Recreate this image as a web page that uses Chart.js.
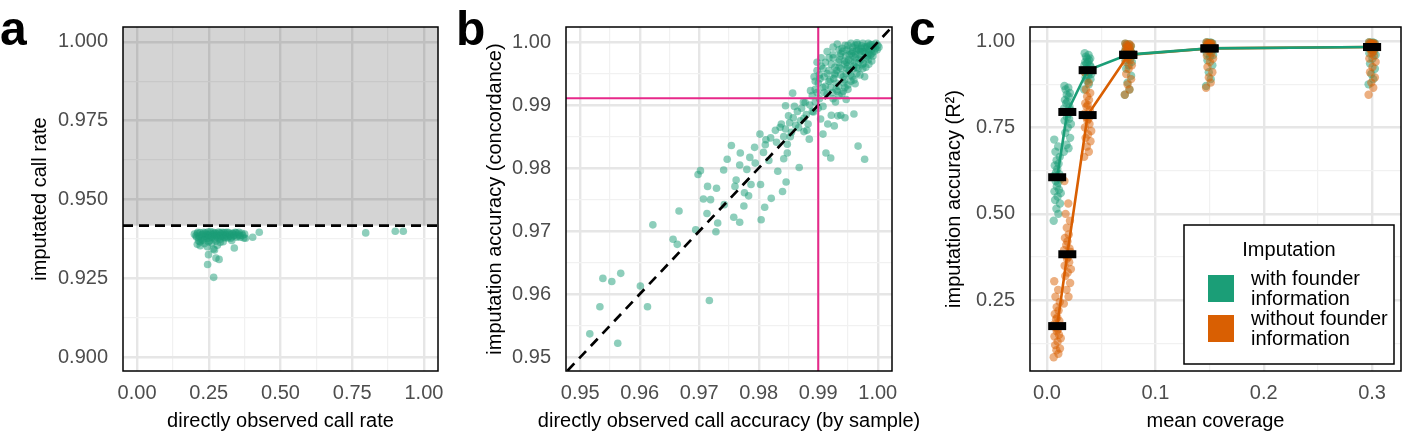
<!DOCTYPE html>
<html>
<head>
<meta charset="utf-8">
<script src="https://cdn.jsdelivr.net/npm/chart.js@4.4.1/dist/chart.umd.min.js"></script>
<style>
  body { margin: 0; background: #fff; width: 1418px; height: 433px; overflow: hidden; position: relative; }
  canvas { position: absolute; top: 0; }
</style>
</head>
<body>
<canvas id="chartA" width="455" height="433" style="left:0"></canvas>
<canvas id="chartB" width="475" height="433" style="left:455px"></canvas>
<canvas id="chartC" width="510" height="433" style="left:908px"></canvas>
<script>
const FONT = "'Liberation Sans', Arial, sans-serif";
const GREEN = '#1b9e77';
const ORANGE = '#d95f02';
const PINK = '#e7298a';

// ---- panel a: imputed vs directly observed call rate ----
const aXTicks = [0, 0.25, 0.5, 0.75, 1];
const aXLabels = ['0.00', '0.25', '0.50', '0.75', '1.00'];
const aXMinor = [0.125, 0.375, 0.625, 0.875];
const aYTicks = [0.9, 0.925, 0.95, 0.975, 1.0];
const aYLabels = ['0.900', '0.925', '0.950', '0.975', '1.000'];
const aYMinor = [0.9125, 0.9375, 0.9625, 0.9875];
const aThreshold = 0.9417;
const aPoints = [
  [0.205,0.9385],[0.21,0.9392],[0.215,0.9378],[0.22,0.9395],[0.225,0.9388],[0.228,0.9372],[0.232,0.9396],
  [0.236,0.9383],[0.24,0.9390],[0.243,0.9376],[0.247,0.9397],[0.25,0.9386],[0.254,0.9370],[0.257,0.9393],
  [0.26,0.9380],[0.263,0.9388],[0.266,0.9396],[0.27,0.9375],[0.273,0.9385],[0.276,0.9392],[0.28,0.9380],
  [0.284,0.9397],[0.287,0.9387],[0.29,0.9374],[0.294,0.9391],[0.298,0.9383],[0.302,0.9395],[0.306,0.9378],
  [0.31,0.9389],[0.314,0.9396],[0.318,0.9382],[0.322,0.9390],[0.327,0.9377],[0.332,0.9393],[0.337,0.9385],
  [0.342,0.9396],[0.347,0.9380],[0.352,0.9390],[0.358,0.9386],[0.365,0.9393],[0.372,0.9378],[0.22,0.9365],
  [0.235,0.9360],[0.26,0.9362],[0.30,0.9366],[0.21,0.9358],[0.28,0.9355],[0.245,0.9350],[0.33,0.9370],
  [0.27,0.9340],[0.22,0.9353],[0.266,0.9343],
  [0.20,0.9390],[0.208,0.9380],[0.212,0.9396],[0.218,0.9384],[0.224,0.9376],[0.23,0.9390],[0.238,0.9394],
  [0.242,0.9382],[0.248,0.9388],[0.252,0.9378],[0.256,0.9398],[0.262,0.9384],[0.268,0.9390],[0.272,0.9394],
  [0.278,0.9386],[0.282,0.9376],[0.288,0.9394],[0.292,0.9384],[0.296,0.9396],[0.30,0.9388],[0.304,0.9380],
  [0.308,0.9395],[0.312,0.9385],[0.316,0.9378],[0.32,0.9395],[0.325,0.9386],[0.33,0.9382],[0.335,0.9392],
  [0.34,0.9388],[0.345,0.9394],[0.35,0.9384],[0.355,0.9396],[0.36,0.9380],[0.368,0.9386],[0.375,0.9390],
  [0.233,0.9370],[0.25,0.9366],[0.275,0.9368],[0.29,0.9364],[0.215,0.9368],
  [0.426,0.9396],[0.403,0.9380],[0.378,0.9377],[0.339,0.9346],[0.249,0.9325],[0.286,0.9310],[0.275,0.9314],
  [0.246,0.9294],[0.267,0.9253],[0.797,0.9394],[0.900,0.9399],[0.928,0.9399]
];

// ---- panel b: imputation accuracy vs directly observed accuracy ----
const bTicks = [0.95, 0.96, 0.97, 0.98, 0.99, 1.0];
const bLabels = ['0.95', '0.96', '0.97', '0.98', '0.99', '1.00'];
const bMinor = [0.955, 0.965, 0.975, 0.985, 0.995];
const bRefX = 0.990;
const bRefY = 0.9911;
const bPoints = [
  [0.9516,0.9537],[0.9563,0.9522],[0.9533,0.9580],[0.9538,0.9625],[0.9553,0.9620],[0.9568,0.9633],[0.9601,0.9613],
  [0.9613,0.9580],[0.9622,0.9710],[0.9656,0.9687],[0.9663,0.9679],[0.9666,0.9732],[0.9694,0.9702],[0.9717,0.9590],
  [0.9698,0.9790],[0.9702,0.9796],[0.9714,0.9771],[0.9729,0.9768],[0.9707,0.9751],[0.9719,0.9750],[0.9713,0.9728],
  [0.9731,0.9713],[0.9728,0.9699],[0.9741,0.9797],[0.9742,0.9742],[0.9747,0.9814],[0.9754,0.9836],[0.9762,0.9781],
  [0.9760,0.9771],[0.9758,0.9722],[0.9768,0.9714],[0.9769,0.9824],[0.9768,0.9805],[0.9775,0.9740],[0.9776,0.9761],
  [0.9783,0.9756],[0.9780,0.9798],[0.9785,0.9817],[0.9787,0.9774],[0.9793,0.9833],[0.9794,0.9808],[0.9803,0.9774],
  [0.9802,0.9854],[0.9804,0.9718],[0.9810,0.9738],[0.9808,0.9825],[0.9811,0.9837],[0.9817,0.9812],[0.9821,0.9752],
  [0.9830,0.9841],[0.9832,0.9795],[0.9836,0.9865],[0.9842,0.9815],[0.9840,0.9763],[0.9846,0.9778],[0.9848,0.9824],
  [0.9853,0.9850],[0.9850,0.9883],[0.9857,0.9919],[0.9860,0.9898],[0.9845,0.9899],[0.9868,0.9801],[0.9867,0.9864],
  [0.9876,0.9879],[0.9881,0.9860],[0.9885,0.9846],[0.9878,0.9904],[0.9887,0.9923],[0.9892,0.9889],[0.9904,0.9878],
  [0.9908,0.9854],[0.9913,0.9824],[0.9921,0.9816],[0.9916,0.9870],[0.9922,0.9884],[0.9929,0.9905],[0.9938,0.9884],
  [0.9945,0.9880],[0.9933,0.9883],[0.9960,0.9886],[0.9967,0.9835],[0.9978,0.9814],[0.9947,0.9909],[0.9927,0.9867],
  [0.9838,0.9870],[0.9845,0.9862],[0.9852,0.9872],[0.9858,0.9880],[0.9862,0.9868],[0.9865,0.9890],[0.9870,0.9875],
  [0.9872,0.9895],[0.9875,0.9905],[0.9880,0.9885],[0.9883,0.9870],[0.9886,0.9900],[0.9890,0.9890],[0.9895,0.9905],
  [0.9900,0.9895],[0.9902,0.9910],[0.9908,0.9898],[0.9876,0.9858],[0.9855,0.9857],[0.9842,0.9850],[0.9848,0.9838],
  [0.9828,0.9860],[0.9820,0.9848],[0.9812,0.9845],
  [0.9890,0.9915],[0.9895,0.9925],[0.9900,0.9935],[0.9893,0.9945],[0.9898,0.9955],[0.9905,0.9962],[0.9910,0.9945],
  [0.9912,0.9930],[0.9915,0.9918],[0.9920,0.9940],[0.9918,0.9955],[0.9922,0.9965],[0.9925,0.9975],[0.9928,0.9950],
  [0.9930,0.9935],[0.9932,0.9922],[0.9935,0.9960],[0.9936,0.9972],[0.9938,0.9982],[0.9940,0.9990],[0.9942,0.9945],
  [0.9945,0.9965],[0.9946,0.9978],[0.9948,0.9988],[0.9950,0.9995],[0.9952,0.9955],[0.9955,0.9970],[0.9956,0.9982],
  [0.9958,0.9992],[0.9960,0.9962],[0.9962,0.9975],[0.9964,0.9986],[0.9966,0.9996],[0.9968,0.9968],[0.9970,0.9980],
  [0.9972,0.9990],[0.9975,0.9998],[0.9977,0.9985],[0.9980,0.9975],[0.9982,0.9993],[0.9985,0.9988],[0.9988,0.9996],
  [0.9990,0.9982],[0.9993,0.9992],[0.9996,0.9990],[1.0000,0.9995],[0.9985,0.9965],[0.9975,0.9958],[0.9965,0.9950],
  [0.9955,0.9938],[0.9945,0.9928],[0.9935,0.9915],[0.9925,0.9910],[0.9960,0.9940],[0.9970,0.9948],[0.9978,0.9945],
  [0.9950,0.9925],[0.9940,0.9918],[0.9915,0.9985],[0.9925,0.9992],[0.9932,0.9997],[0.9905,0.9975],[0.9898,0.9968],
  [0.9944,0.9970],[0.9952,0.9980],[0.9958,0.9985],[0.9948,0.9958],[0.9938,0.9948],[0.9928,0.9960],[0.9962,0.9995],
  [0.9972,0.9972],[0.9988,0.9980],
  [0.9895,0.9938],[0.9902,0.9948],[0.9908,0.9958],[0.9912,0.9968],[0.9918,0.9975],[0.9921,0.9928],[0.9926,0.9942],
  [0.9931,0.9955],[0.9934,0.9968],[0.9937,0.9978],[0.9941,0.9985],[0.9943,0.9935],[0.9947,0.9950],[0.9949,0.9962],
  [0.9951,0.9972],[0.9953,0.9986],[0.9957,0.9945],[0.9959,0.9958],[0.9961,0.9968],[0.9963,0.9980],[0.9965,0.9990],
  [0.9967,0.9958],[0.9969,0.9974],[0.9971,0.9985],[0.9973,0.9994],[0.9976,0.9966],[0.9979,0.9982],[0.9981,0.9990],
  [0.9983,0.9978],[0.9986,0.9994],[0.9989,0.9988],[0.9991,0.9996],[0.9994,0.9985],[0.9997,0.9998],[0.9999,0.9988],
  [1.0002,0.9992],[0.9984,0.9998],[0.9978,0.9992],[0.9968,0.9988],[0.9958,0.9978],[0.9948,0.9968],[0.9938,0.9958],
  [0.9928,0.9948],[0.9918,0.9938],[0.9908,0.9928],[0.9898,0.9920],[0.9954,0.9948],[0.9944,0.9940],[0.9934,0.9930],
  [0.9924,0.9920],[0.9964,0.9960],[0.9974,0.9964],[0.9984,0.9972],[0.9992,0.9978],[0.9990,0.9970],[0.9980,0.9960],
  [0.9962,0.9934],[0.9950,0.9932],[0.9942,0.9922],[0.9930,0.9925],[0.9910,0.9920],[0.9903,0.9942],[0.9915,0.9950],
  [0.9925,0.9980],[0.9935,0.9988],[0.9945,0.9995],[0.9955,0.9998],[0.9965,0.9999],[0.9975,0.9985],[0.9985,0.9982]
];

// ---- panel c: imputation accuracy by coverage ----
const cXTicks = [0, 0.1, 0.2, 0.3];
const cXLabels = ['0.0', '0.1', '0.2', '0.3'];
const cXMinor = [0.05, 0.15, 0.25];
const cYTicks = [0.25, 0.5, 0.75, 1.0];
const cYLabels = ['0.25', '0.50', '0.75', '1.00'];
const cYMinor = [0.125, 0.375, 0.625, 0.875];
const coverage = [0.009375, 0.01875, 0.0375, 0.075, 0.15, 0.3];
const withMean = [0.606, 0.795, 0.916, 0.961, 0.979, 0.983];
const withoutMean = [0.175, 0.383, 0.786, 0.960, 0.979, 0.983];
const jitter = [-0.0032, 0.0011, -0.0007, 0.0026, -0.0019, 0.0004, 0.0033, -0.0025, 0.0017, -0.0003, 0.0008, -0.0014,
  0.0029, -0.0030, 0.0020, -0.0010, 0.0001, -0.0022, 0.0013, -0.0005, 0.0024, -0.0016, 0.0009, -0.0027];
const withSamples = [
  [0.48, 0.50, 0.515, 0.53, 0.54, 0.55, 0.56, 0.565, 0.57, 0.58, 0.59, 0.595, 0.60, 0.61, 0.615, 0.62, 0.63, 0.64, 0.645, 0.655, 0.665, 0.68, 0.695, 0.715],
  [0.68, 0.69, 0.70, 0.72, 0.735, 0.75, 0.76, 0.77, 0.775, 0.78, 0.79, 0.795, 0.80, 0.805, 0.81, 0.82, 0.825, 0.83, 0.84, 0.845, 0.85, 0.86, 0.865, 0.87],
  [0.86, 0.875, 0.885, 0.89, 0.895, 0.90, 0.905, 0.91, 0.91, 0.915, 0.92, 0.92, 0.925, 0.93, 0.93, 0.935, 0.94, 0.94, 0.945, 0.95, 0.95, 0.955, 0.96, 0.965],
  [0.845, 0.86, 0.88, 0.90, 0.92, 0.93, 0.94, 0.945, 0.95, 0.955, 0.96, 0.96, 0.965, 0.97, 0.97, 0.975, 0.975, 0.98, 0.98, 0.985, 0.985, 0.99, 0.99, 0.993],
  [0.87, 0.89, 0.91, 0.93, 0.945, 0.955, 0.96, 0.965, 0.97, 0.975, 0.975, 0.98, 0.98, 0.985, 0.985, 0.988, 0.99, 0.99, 0.992, 0.993, 0.994, 0.995, 0.996, 0.997],
  [0.875, 0.89, 0.905, 0.92, 0.935, 0.95, 0.96, 0.965, 0.97, 0.975, 0.978, 0.98, 0.983, 0.985, 0.987, 0.989, 0.99, 0.991, 0.992, 0.993, 0.994, 0.995, 0.996, 0.997]
];
const withoutSamples = [
  [0.085, 0.095, 0.105, 0.11, 0.12, 0.13, 0.14, 0.145, 0.15, 0.16, 0.165, 0.17, 0.175, 0.18, 0.19, 0.195, 0.20, 0.21, 0.22, 0.23, 0.245, 0.26, 0.28, 0.305],
  [0.24, 0.26, 0.28, 0.30, 0.32, 0.33, 0.34, 0.35, 0.36, 0.37, 0.375, 0.38, 0.39, 0.395, 0.40, 0.41, 0.42, 0.43, 0.44, 0.46, 0.48, 0.50, 0.53, 0.595],
  [0.665, 0.68, 0.695, 0.71, 0.72, 0.73, 0.74, 0.75, 0.76, 0.77, 0.775, 0.78, 0.785, 0.79, 0.80, 0.81, 0.815, 0.82, 0.83, 0.84, 0.85, 0.86, 0.88, 0.91],
  [0.845, 0.86, 0.875, 0.89, 0.905, 0.92, 0.93, 0.94, 0.945, 0.95, 0.955, 0.96, 0.965, 0.97, 0.972, 0.975, 0.978, 0.98, 0.982, 0.985, 0.987, 0.989, 0.991, 0.993],
  [0.865, 0.88, 0.895, 0.91, 0.925, 0.94, 0.95, 0.958, 0.965, 0.97, 0.974, 0.978, 0.98, 0.983, 0.985, 0.987, 0.989, 0.99, 0.991, 0.992, 0.993, 0.994, 0.995, 0.996],
  [0.845, 0.865, 0.88, 0.895, 0.91, 0.925, 0.94, 0.95, 0.958, 0.965, 0.97, 0.975, 0.978, 0.981, 0.984, 0.986, 0.988, 0.99, 0.991, 0.992, 0.993, 0.994, 0.995, 0.996]
];
const legendTitle = 'Imputation';
const seriesNames = [['with founder', 'information'], ['without founder', 'information']];

// ---------- helpers ----------
const toXY = arr => arr.map(p => ({ x: p[0], y: p[1] }));
const near = (a, b) => Math.abs(a - b) < 1e-9;

function axis(o) {
  const all = o.major.concat(o.minor);
  const isMajor = v => o.major.some(m => near(m, v));
  const left = o.pos === 'left';
  return {
    type: 'linear',
    position: o.pos,
    min: o.min,
    max: o.max,
    afterBuildTicks: s => { s.ticks = all.map(v => ({ value: v })); },
    afterFit: s => { if (left) s.width = o.size; else s.height = o.size; },
    grid: {
      drawTicks: false,
      color: c => (c.tick && isMajor(c.tick.value)) ? '#e6e6e6' : '#f1f1f1',
      lineWidth: c => (c.tick && isMajor(c.tick.value)) ? 2.4 : 1.2
    },
    border: { display: false },
    ticks: {
      autoSkip: false,
      maxRotation: 0,
      padding: left ? 15 : 10,
      color: '#4d4d4d',
      font: { size: 20, family: FONT },
      callback: v => {
        const i = o.major.findIndex(m => near(m, v));
        return i >= 0 ? o.labels[i] : '';
      }
    },
    title: { display: false }
  };
}

// frame, panel letter and axis titles (titles may run past the plot width)
function framePlugin(letter, lx, xTitle, yTitle, yTitleX) {
  return {
    id: 'frame' + letter,
    afterDraw(chart) {
      const { ctx, chartArea: a } = chart;
      ctx.save();
      ctx.strokeStyle = '#000';
      ctx.lineWidth = 1.5;
      ctx.strokeRect(a.left, a.top, a.right - a.left, a.bottom - a.top);
      ctx.fillStyle = '#000';
      ctx.font = 'bold 48px ' + FONT;
      ctx.textBaseline = 'alphabetic';
      ctx.textAlign = 'left';
      ctx.fillText(letter, lx, 45);
      ctx.font = '20px ' + FONT;
      ctx.textAlign = 'center';
      ctx.textBaseline = 'middle';
      ctx.fillText(xTitle, (a.left + a.right) / 2, 421);
      ctx.translate(yTitleX, (a.top + a.bottom) / 2);
      ctx.rotate(-Math.PI / 2);
      ctx.fillText(yTitle, 0, 0);
      ctx.restore();
    }
  };
}

const baseOptions = (scales, padRight) => ({
  responsive: false,
  animation: false,
  events: [],
  layout: { padding: { top: 2, right: padRight, left: 0, bottom: 0 } },
  plugins: { legend: { display: false }, tooltip: { enabled: false } },
  scales
});

// ---------- panel a ----------
const shadePlugin = {
  id: 'shade',
  beforeDatasetsDraw(chart) {
    const { ctx, chartArea: a, scales } = chart;
    const yTop = scales.y.getPixelForValue(aThreshold);
    ctx.save();
    ctx.fillStyle = 'rgba(0,0,0,0.17)';
    ctx.fillRect(a.left, a.top, a.right - a.left, yTop - a.top);
    ctx.restore();
  }
};

new Chart(document.getElementById('chartA'), {
  type: 'scatter',
  data: {
    datasets: [
      {
        data: [{ x: -0.049, y: aThreshold }, { x: 1.049, y: aThreshold }],
        showLine: true, pointRadius: 0, borderColor: '#000', borderWidth: 2.7, borderDash: [10, 6], order: 0
      },
      {
        data: toXY(aPoints), pointRadius: 3.8, backgroundColor: 'rgba(27,158,119,0.5)', pointBorderWidth: 0, order: 1
      }
    ]
  },
  options: baseOptions({
    x: axis({ pos: 'bottom', min: -0.049, max: 1.049, major: aXTicks, labels: aXLabels, minor: aXMinor, size: 62 }),
    y: axis({ pos: 'left', min: 0.8956, max: 1.0047, major: aYTicks, labels: aYLabels, minor: aYMinor, size: 123 })
  }, 17),
  plugins: [shadePlugin, framePlugin('a', 0, 'directly observed call rate', 'imputated call rate', 40)]
});

// ---------- panel b ----------
new Chart(document.getElementById('chartB'), {
  type: 'scatter',
  data: {
    datasets: [
      {
        data: [{ x: bRefX, y: 0.9 }, { x: bRefX, y: 1.1 }],
        showLine: true, pointRadius: 0, borderColor: PINK, borderWidth: 2, order: 0
      },
      {
        data: [{ x: 0.9, y: bRefY }, { x: 1.1, y: bRefY }],
        showLine: true, pointRadius: 0, borderColor: PINK, borderWidth: 2, order: 0
      },
      {
        data: [{ x: 0.94, y: 0.94 }, { x: 1.01, y: 1.01 }],
        showLine: true, pointRadius: 0, borderColor: '#000', borderWidth: 2.7, borderDash: [10, 7], order: 1
      },
      {
        data: toXY(bPoints), pointRadius: 3.8, backgroundColor: 'rgba(27,158,119,0.5)', pointBorderWidth: 0, order: 2
      }
    ]
  },
  options: baseOptions({
    x: axis({ pos: 'bottom', min: 0.9476, max: 1.0024, major: bTicks, labels: bLabels, minor: bMinor, size: 62 }),
    y: axis({ pos: 'left', min: 0.9478, max: 1.0024, major: bTicks, labels: bLabels, minor: bMinor, size: 111 })
  }, 38),
  plugins: [framePlugin('b', 1, 'directly observed call accuracy (by sample)', 'imputation accuracy (concordance)', 40)]
});

// ---------- panel c ----------
const samplePoints = groups => groups.flatMap((ys, i) => ys.map((y, j) => ({ x: coverage[i] + jitter[j % jitter.length], y })));
const meanPoints = means => means.map((y, i) => ({ x: coverage[i], y }));
const seriesColors = [GREEN, ORANGE];

const legendPlugin = {
  id: 'legendC',
  afterDraw(chart) {
    const { ctx, chartArea: a } = chart;
    const w = 210, h = 139;
    const x = a.right - 7 - w, y = a.bottom - 7 - h;
    ctx.save();
    ctx.fillStyle = '#fff';
    ctx.fillRect(x, y, w, h);
    ctx.strokeStyle = '#000';
    ctx.lineWidth = 1.5;
    ctx.strokeRect(x, y, w, h);
    ctx.fillStyle = '#000';
    ctx.font = '20px ' + FONT;
    ctx.textAlign = 'center';
    ctx.textBaseline = 'middle';
    ctx.fillText(legendTitle, x + w / 2, y + 25);
    ctx.textAlign = 'left';
    seriesNames.forEach((lines, i) => {
      const ky = y + 50 + i * 40;
      ctx.fillStyle = seriesColors[i];
      ctx.fillRect(x + 24, ky, 26, 27);
      ctx.fillStyle = '#000';
      lines.forEach((t, j) => ctx.fillText(t, x + 67, ky + 4 + j * 20));
    });
    ctx.restore();
  }
};

new Chart(document.getElementById('chartC'), {
  type: 'scatter',
  data: {
    datasets: [
      {
        data: meanPoints(withMean), pointStyle: 'line', pointRadius: 9, pointBorderWidth: 8, pointBorderColor: '#000', order: 0
      },
      {
        data: meanPoints(withoutMean), pointStyle: 'line', pointRadius: 9, pointBorderWidth: 8, pointBorderColor: '#000', order: 0
      },
      {
        data: meanPoints(withMean), showLine: true, pointRadius: 0, borderColor: GREEN, borderWidth: 2.6, order: 1
      },
      {
        data: meanPoints(withoutMean), showLine: true, pointRadius: 0, borderColor: ORANGE, borderWidth: 2.6, order: 1
      },
      {
        data: samplePoints(withoutSamples), pointRadius: 4.2, backgroundColor: 'rgba(217,95,2,0.5)', pointBorderWidth: 0, order: 2
      },
      {
        data: samplePoints(withSamples), pointRadius: 4.2, backgroundColor: 'rgba(27,158,119,0.5)', pointBorderWidth: 0, order: 3
      }
    ]
  },
  options: baseOptions({
    x: axis({ pos: 'bottom', min: -0.0157, max: 0.3267, major: cXTicks, labels: cXLabels, minor: cXMinor, size: 62 }),
    y: axis({ pos: 'left', min: 0.045, max: 1.041, major: cYTicks, labels: cYLabels, minor: cYMinor, size: 122 })
  }, 3),
  plugins: [framePlugin('c', 1, 'mean coverage', 'imputation accuracy (R²)', 46), legendPlugin]
});
</script>
</body>
</html>
